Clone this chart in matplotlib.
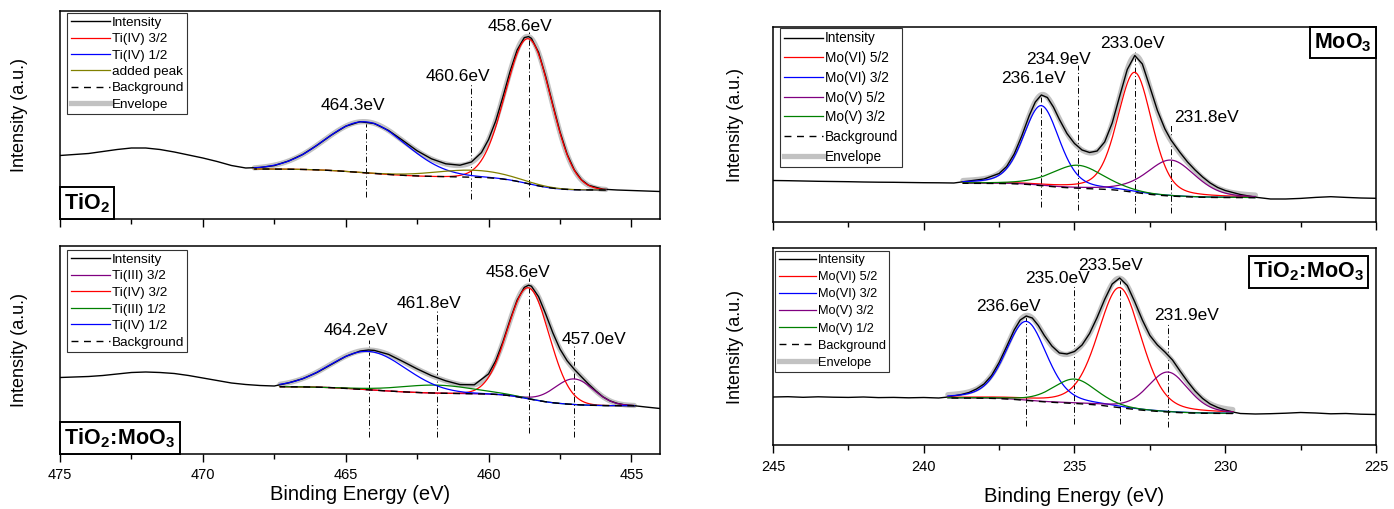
import numpy as np
import matplotlib
matplotlib.use("Agg")
import matplotlib.pyplot as plt
from matplotlib.ticker import MultipleLocator
from matplotlib.offsetbox import AnchoredText
from matplotlib.lines import Line2D

plt.rcParams["font.family"] = ["Liberation Sans", "DejaVu Sans"]
plt.rcParams["mathtext.fontset"] = "custom"
plt.rcParams["mathtext.rm"] = "Liberation Sans"
plt.rcParams["mathtext.bf"] = "Liberation Sans:bold"

# ---------------- Ti 2p of TiO2 ----------------
ti_tio2_be = [475.0, 474.5, 474.0, 473.5, 473.0, 472.5, 472.0, 471.5, 471.0, 470.5,
              470.0, 469.5, 469.0, 468.5, 468.0, 467.5, 467.0, 466.5, 466.0, 465.5,
              465.0, 464.5, 464.0, 463.5, 463.0, 462.5, 462.0, 461.5, 461.0, 460.6,
              460.25, 460.0, 459.75, 459.5, 459.25, 459.0, 458.75, 458.6, 458.5, 458.25,
              458.0, 457.75, 457.5, 457.25, 457.0, 456.75, 456.5, 456.0, 455.5, 455.0,
              454.5, 454.0]
ti_tio2_counts = [49.5, 50.5, 51.5, 53.5, 55.5, 57.0, 57.0, 55.5, 53.0, 50.0,
                  47.0, 43.5, 39.5, 37.0, 37.5, 39.4, 44.0, 50.6, 59.8, 70.0,
                  78.8, 83.3, 81.5, 74.5, 64.5, 54.2, 46.2, 41.2, 39.8, 43.0,
                  52.4, 65.5, 84.0, 107.9, 133.3, 155.0, 167.4, 168.4, 166.6, 152.6,
                  128.4, 100.1, 73.1, 50.7, 35.0, 25.2, 19.7, 15.8, 15.0, 14.5,
                  14.0, 13.5]
ti_tio2_names = ["Ti(IV) 3/2", "Ti(IV) 1/2", "added peak"]
ti_tio2_centers = [458.6, 464.3, 460.6]
ti_tio2_heights = [145.0, 51.0, 7.0]
ti_tio2_fwhm = [1.88, 3.32, 3.06]
ti_tio2_window = [455.9, 468.2]
ti_tio2_window_counts = [15.0, 36.0]

# ---------------- Ti 2p of TiO2:MoO3 ----------------
ti_mix_be = [475.0, 474.5, 474.0, 473.5, 473.0, 472.5, 472.0, 471.5, 471.0, 470.5,
             470.0, 469.5, 469.0, 468.5, 468.0, 467.5, 467.0, 466.5, 466.0, 465.5,
             465.0, 464.5, 464.2, 464.0, 463.5, 463.0, 462.5, 462.0, 461.5, 461.0,
             460.5, 460.0, 459.75, 459.5, 459.25, 459.0, 458.75, 458.6, 458.5, 458.25,
             458.0, 457.75, 457.5, 457.25, 457.0, 456.75, 456.5, 456.25, 456.0, 455.75,
             455.5, 455.25, 455.0, 454.5, 454.0]
ti_mix_counts = [62.5, 63.0, 63.5, 64.5, 66.0, 67.5, 68.0, 67.5, 66.5, 64.5,
                 62.0, 59.5, 57.0, 55.5, 54.5, 54.0, 57.1, 61.3, 67.6, 75.6,
                 83.6, 88.9, 90.0, 89.6, 85.6, 78.5, 71.1, 64.4, 59.2, 55.4,
                 55.2, 66.1, 79.2, 97.9, 119.8, 139.9, 152.6, 154.8, 153.8, 143.3,
                 125.9, 107.1, 90.9, 79.2, 70.7, 63.2, 55.9, 49.2, 43.2, 39.1,
                 36.6, 35.2, 34.6, 33.0, 31.5]
ti_mix_names = ["Ti(III) 3/2", "Ti(IV) 3/2", "Ti(III) 1/2", "Ti(IV) 1/2"]
ti_mix_centers = [457.0, 458.6, 461.8, 464.2]
ti_mix_heights = [25.6, 111.0, 8.0, 38.3]
ti_mix_fwhm = [1.6, 1.7, 3.0, 3.1]
ti_mix_window = [454.9, 467.3]
ti_mix_window_counts = [34.3, 53.3]

# ---------------- Mo 3d of MoO3 ----------------
mo_moo3_be = [245.0, 244.5, 244.0, 243.5, 243.0, 242.5, 242.0, 241.5, 241.0, 240.5,
              240.0, 239.5, 239.0, 238.5, 238.0, 237.5, 237.25, 237.0, 236.75, 236.5,
              236.3, 236.1, 235.9, 235.7, 235.5, 235.25, 235.0, 234.75, 234.5, 234.25,
              234.0, 233.75, 233.5, 233.25, 233.0, 232.75, 232.5, 232.25, 232.0, 231.8,
              231.5, 231.25, 231.0, 230.75, 230.5, 230.25, 230.0, 229.5, 229.0, 228.5,
              228.0, 227.5, 227.0, 226.5, 226.0, 225.5, 225.0]
mo_moo3_counts = [41.5, 41.3, 41.0, 40.7, 40.5, 40.3, 40.0, 39.8, 39.7, 39.5,
                  39.3, 39.2, 39.0, 41.0, 43.0, 48.5, 55.5, 68.0, 86.0, 106.5,
                  120.0, 127.0, 124.5, 115.0, 102.5, 88.5, 78.5, 72.0, 69.5, 71.0,
                  80.0, 99.0, 126.0, 152.5, 166.5, 158.0, 135.0, 111.5, 93.0, 82.0,
                  69.5, 60.0, 52.0, 45.0, 39.0, 34.5, 31.5, 27.5, 24.8, 23.0,
                  23.0, 23.6, 24.6, 25.3, 24.6, 24.0, 23.7]
mo_moo3_names = ["Mo(VI) 5/2", "Mo(VI) 3/2", "Mo(V) 5/2", "Mo(V) 3/2"]
mo_moo3_centers = [233.0, 236.1, 231.8, 234.9]
mo_moo3_heights = [120.0, 80.0, 36.0, 23.0]
mo_moo3_fwhm = [1.35, 1.4, 1.9, 2.0]
mo_moo3_window = [229.0, 238.7]
mo_moo3_window_counts = [24.3, 38.7]

# ---------------- Mo 3d of TiO2:MoO3 ----------------
mo_mix_be = [245.0, 244.5, 244.0, 243.5, 243.0, 242.5, 242.0, 241.5, 241.0, 240.5,
             240.0, 239.5, 239.2, 238.75, 238.5, 238.25, 238.0, 237.75, 237.5, 237.25,
             237.0, 236.8, 236.6, 236.4, 236.2, 236.0, 235.75, 235.5, 235.25, 235.0,
             234.75, 234.5, 234.25, 234.0, 233.75, 233.5, 233.25, 233.0, 232.75, 232.5,
             232.25, 232.0, 231.75, 231.5, 231.25, 231.0, 230.75, 230.5, 230.25, 230.0,
             229.75, 229.5, 229.0, 228.5, 228.0, 227.5, 227.0, 226.5, 226.0, 225.5,
             225.0]
mo_mix_counts = [48.0, 48.3, 47.7, 48.2, 47.8, 47.6, 48.0, 47.4, 47.6, 47.2,
                 47.5, 47.0, 48.0, 50.5, 52.5, 56.0, 61.0, 69.5, 82.5, 98.5,
                 115.0, 125.0, 129.0, 127.0, 119.5, 109.5, 99.0, 92.0, 91.0, 93.5,
                 100.0, 111.5, 127.5, 145.5, 161.0, 167.0, 159.5, 143.0, 125.0, 109.5,
                 100.0, 93.0, 85.0, 74.0, 63.5, 54.0, 46.5, 41.0, 37.5, 35.0,
                 33.0, 31.5, 31.0, 31.3, 31.8, 32.5, 32.0, 31.2, 31.5, 30.8,
                 30.5]
mo_mix_names = ["Mo(VI) 5/2", "Mo(VI) 3/2", "Mo(V) 3/2", "Mo(V) 1/2"]
mo_mix_centers = [233.5, 236.6, 231.9, 235.0]
mo_mix_heights = [120.0, 79.0, 40.0, 24.4]
mo_mix_fwhm = [1.7, 1.6, 1.6, 1.7]
mo_mix_window = [229.75, 239.2]
mo_mix_window_counts = [31.5, 47.0]

# Lorentzian fraction of the line shapes
ti_eta = 0.0
mo_eta = 0.3

RED, BLUE, GREEN, PURPLE, OLIVE = "#ff0000", "#0000ff", "#008000", "#800080", "#808000"
ENVELOPE = "#c2c2c2"
FIG_W, FIG_H = 1394, 509


def pseudo_voigt(x, center, height, fwhm, eta):
    r2 = (2.0 * (x - center) / fwhm) ** 2
    return height * ((1.0 - eta) * np.exp(-np.log(2.0) * r2) + eta / (1.0 + r2))


def shirley(x, peaks, i_lo, i_hi):
    """Shirley step: proportional to the peak area on the low binding-energy side."""
    cum = np.concatenate([[0.0], np.cumsum(0.5 * (peaks[1:] + peaks[:-1]) * np.diff(x))])
    return i_lo + (i_hi - i_lo) * cum / cum[-1]


panels = [
    dict(be=ti_tio2_be, counts=ti_tio2_counts, names=ti_tio2_names,
         centers=ti_tio2_centers, heights=ti_tio2_heights, fwhm=ti_tio2_fwhm,
         window=ti_tio2_window, window_counts=ti_tio2_window_counts, eta=ti_eta,
         colors=[RED, BLUE, OLIVE], envelope_in_legend=True,
         xlim=(475, 454), ylim=(-14, 194), rect=(60, 11, 600, 208),
         sample=r"$\mathbf{TiO_2}$", sample_loc="lower left", sample_pad=0.0,
         legend_anchor=(0.012, 0.99), legend_size=9.7, legend_spacing=0.29,
         label_dx=[0.3, 0.45, 0.46], label_y=[174, 95, 124],
         line_top=[173, 85, 122], line_bottom=[8.3, 8.3, 6.0],
         ticklabels=False, ylabelpad=23, xlabelpad=2, tickpad=4),
    dict(be=ti_mix_be, counts=ti_mix_counts, names=ti_mix_names,
         centers=ti_mix_centers, heights=ti_mix_heights, fwhm=ti_mix_fwhm,
         window=ti_mix_window, window_counts=ti_mix_window_counts, eta=ti_eta,
         colors=[PURPLE, RED, GREEN, BLUE], envelope_in_legend=False,
         xlim=(475, 454), ylim=(-14, 194), rect=(60, 246, 600, 208),
         sample=r"$\mathbf{TiO_2\!:\!MoO_3}$", sample_loc="lower left", sample_pad=0.0,
         legend_anchor=(0.012, 0.981), legend_size=9.7, legend_spacing=0.31,
         label_dx=[-0.7, 0.37, 0.3, 0.44], label_y=[96, 162.7, 131.7, 105],
         line_top=[96, 162, 131, 100], line_bottom=[3.3, 6.7, 3.3, 3.3],
         ticklabels=True, ylabelpad=23, xlabelpad=2, tickpad=4),
    dict(be=mo_moo3_be, counts=mo_moo3_counts, names=mo_moo3_names,
         centers=mo_moo3_centers, heights=mo_moo3_heights, fwhm=mo_moo3_fwhm,
         window=mo_moo3_window, window_counts=mo_moo3_window_counts, eta=mo_eta,
         colors=[RED, BLUE, PURPLE, GREEN], envelope_in_legend=True,
         xlim=(245, 225), ylim=(0, 195), rect=(773, 27, 603, 195),
         sample=r"$\mathbf{MoO_3}$", sample_loc="upper right", sample_pad=0.0,
         legend_anchor=(0.012, 0.995), legend_size=9.8, legend_spacing=0.42,
         label_dx=[0.07, 0.27, -1.18, 0.64], label_y=[173.7, 138.7, 100.3, 157.7],
         line_top=[170, 127, 97, 157], line_bottom=[8.7, 15.3, 8.7, 12.0],
         ticklabels=False, ylabelpad=21, xlabelpad=9, tickpad=5),
    dict(be=mo_mix_be, counts=mo_mix_counts, names=mo_mix_names,
         centers=mo_mix_centers, heights=mo_mix_heights, fwhm=mo_mix_fwhm,
         window=mo_mix_window, window_counts=mo_mix_window_counts, eta=mo_eta,
         colors=[RED, BLUE, PURPLE, GREEN], envelope_in_legend=True,
         xlim=(245, 225), ylim=(0, 197), rect=(773, 248, 603, 197),
         sample=r"$\mathbf{TiO_2\!:\!MoO_3}$", sample_loc="upper right", sample_pad=0.35,
         legend_anchor=(0.004, 0.985), legend_size=9.2, legend_spacing=0.4,
         label_dx=[0.32, 0.58, -0.61, 0.58], label_y=[174.7, 133.7, 124.7, 162],
         line_top=[168.7, 130, 122, 160], line_bottom=[21, 19, 18, 21],
         ticklabels=True, ylabelpad=21, xlabelpad=9, tickpad=5),
]


def draw_panel(fig, p):
    left, top, width, height = p["rect"]
    ax = fig.add_axes([left / FIG_W, 1 - (top + height) / FIG_H, width / FIG_W, height / FIG_H])

    lo, hi = p["window"]
    x = np.linspace(lo, hi, 800)
    comps = [pseudo_voigt(x, c, h, w, p["eta"])
             for c, h, w in zip(p["centers"], p["heights"], p["fwhm"])]
    peaks = np.sum(comps, axis=0)
    bg = shirley(x, peaks, *p["window_counts"])
    envelope = bg + peaks

    ax.plot(x, envelope, color=ENVELOPE, lw=3.8, solid_capstyle="round", zorder=2)
    ax.plot(p["be"], p["counts"], color="black", lw=1.0, zorder=3)
    for comp, col in zip(comps, p["colors"]):
        ax.plot(x, bg + comp, color=col, lw=0.9, zorder=4)
    ax.plot(x, bg, color="black", lw=1.0, dashes=(5, 4), zorder=5)

    # peak position markers and labels
    for c, dx, ty, y1, y0 in zip(p["centers"], p["label_dx"], p["label_y"],
                                 p["line_top"], p["line_bottom"]):
        ax.plot([c, c], [y0, y1], color="black", lw=0.7,
                linestyle=(0, (6, 2.5, 1, 2.5)), zorder=1.5)
        ax.text(c + dx, ty, f"{c:.1f}eV", ha="center", va="baseline", fontsize=12.5)

    handles = [Line2D([], [], color="black", lw=1.0)]
    labels = ["Intensity"]
    for name, col in zip(p["names"], p["colors"]):
        handles.append(Line2D([], [], color=col, lw=0.9))
        labels.append(name)
    handles.append(Line2D([], [], color="black", lw=1.0, dashes=(5, 4)))
    labels.append("Background")
    if p["envelope_in_legend"]:
        handles.append(Line2D([], [], color=ENVELOPE, lw=3.8))
        labels.append("Envelope")
    leg = ax.legend(handles, labels, loc="upper left", bbox_to_anchor=p["legend_anchor"],
                    fontsize=p["legend_size"], frameon=True, fancybox=False, framealpha=1,
                    edgecolor="#333333", handlelength=2.9, handletextpad=0.15,
                    labelspacing=p["legend_spacing"], borderpad=0.25, borderaxespad=0.0)
    leg.get_frame().set_linewidth(0.8)
    leg.set_zorder(10)

    box = AnchoredText(p["sample"], loc=p["sample_loc"], frameon=True,
                       borderpad=p["sample_pad"], pad=0.2, prop=dict(size=15.5))
    box.patch.set_linewidth(1.4)
    box.patch.set_edgecolor("black")
    box.set_zorder(11)
    ax.add_artist(box)

    ax.set_xlim(*p["xlim"])
    ax.set_ylim(*p["ylim"])
    ax.xaxis.set_major_locator(MultipleLocator(5))
    ax.xaxis.set_minor_locator(MultipleLocator(2.5))
    ax.tick_params(axis="x", which="major", direction="out", length=6, width=1.0,
                   labelsize=10.5, pad=p["tickpad"], labelbottom=p["ticklabels"])
    ax.tick_params(axis="x", which="minor", direction="out", length=3.5, width=1.0)
    ax.tick_params(axis="y", which="both", left=False, labelleft=False)
    for s in ax.spines.values():
        s.set_linewidth(1.1)
    ax.set_ylabel("Intensity (a.u.)", fontsize=13, labelpad=p["ylabelpad"])
    if p["ticklabels"]:
        ax.set_xlabel("Binding Energy (eV)", fontsize=14.5, labelpad=p["xlabelpad"])
    return ax


fig = plt.figure(figsize=(FIG_W / 100, FIG_H / 100), dpi=100)
for p in panels:
    draw_panel(fig, p)
fig.savefig("out.png", dpi=100)
